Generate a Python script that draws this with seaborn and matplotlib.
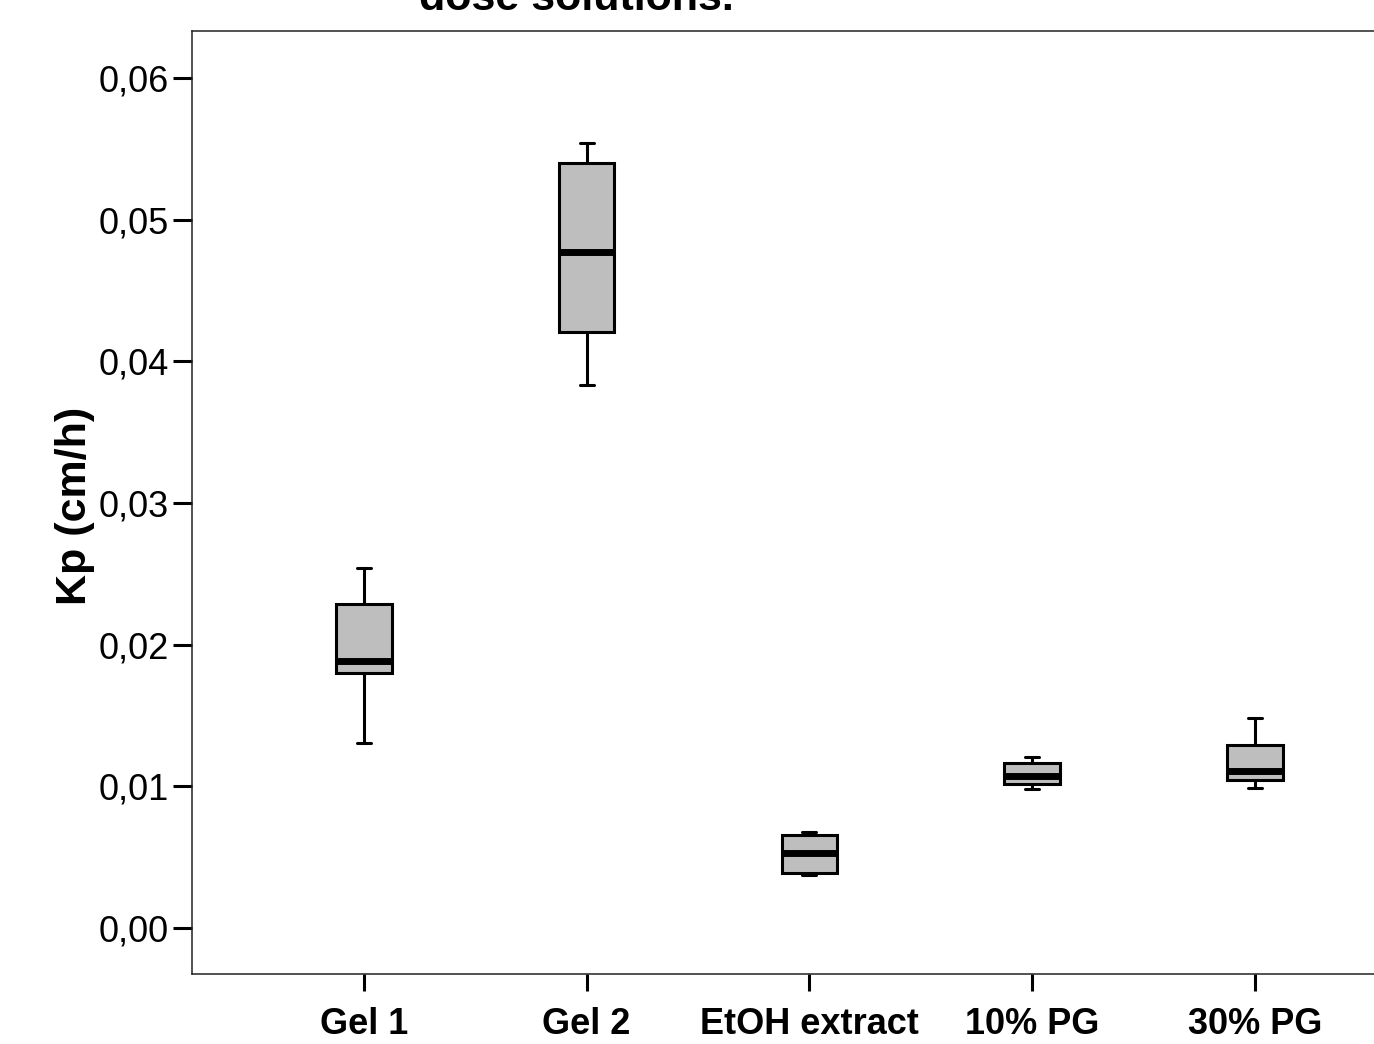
import numpy as np
import pandas as pd
import seaborn as sns
import matplotlib.pyplot as plt
from matplotlib.ticker import FuncFormatter

# five-number summaries (min, Q1, median, Q3, max)
groups = ["Gel 1", "Gel 2", "EtOH extract", "10% PG", "30% PG"]
gel1 = [0.01304, 0.01798, 0.01887, 0.02287, 0.02538]
gel2 = [0.03833, 0.04205, 0.04774, 0.05398, 0.05543]
etoh = [0.00374, 0.00386, 0.00532, 0.00656, 0.00680]
pg10 = [0.00981, 0.01016, 0.01073, 0.01162, 0.01205]
pg30 = [0.00990, 0.01045, 0.01110, 0.01292, 0.01480]

df = pd.DataFrame({
    "group": np.repeat(groups, 5),
    "kp": gel1 + gel2 + etoh + pg10 + pg30,
})

sns.set_style("white")
plt.rcParams['font.family'] = ['Liberation Sans', 'DejaVu Sans']
plt.rcParams['text.color'] = 'black'
plt.rcParams['axes.labelcolor'] = 'black'
plt.rcParams['xtick.color'] = 'black'
plt.rcParams['ytick.color'] = 'black'

fig = plt.figure(figsize=(13.74, 10.44), dpi=100)
ax = fig.add_axes([192/1374, 70/1044, 1234.7/1374, 943/1044])

sns.boxplot(data=df, x="group", y="kp", order=groups, ax=ax,
            color="#bebebe", width=0.25, whis=(0, 100), linecolor="black",
            linewidth=2.2, saturation=1,
            medianprops={"linewidth": 5},
            capwidths=0.063)

ax.set_xlim(-0.772, 4.772)
ax.set_ylim(-0.00325, 0.06332)
ax.set_yticks([0, 0.01, 0.02, 0.03, 0.04, 0.05, 0.06])
ax.yaxis.set_major_formatter(FuncFormatter(lambda v, p: f"{v:.2f}".replace(".", ",")))

for s in ax.spines.values():
    s.set_linewidth(1.1)
    s.set_color("#222222")

ax.tick_params(axis="y", direction="out", length=13.5, width=2.2, labelsize=26, pad=3,
               left=True, color="black", labelcolor="black")
ax.tick_params(axis="x", direction="out", length=12, width=2.2, pad=12, bottom=True,
               color="black", labelcolor="black")
for lab in ax.get_xticklabels():
    lab.set_fontsize(26)
    lab.set_fontweight("bold")

ax.set_xlabel("")
ax.set_ylabel("Kp (cm/h)", fontsize=31, fontweight="bold", color="black")
ax.yaxis.label.set_va("center")
ax.yaxis.set_label_coords(-0.0948, 0.496)

fig.text(576/1374, 1 - 10/1044, "dose solutions.", ha="center", va="baseline",
         fontsize=31, fontweight="bold", color="black")

fig.savefig("out.png", dpi=100)
